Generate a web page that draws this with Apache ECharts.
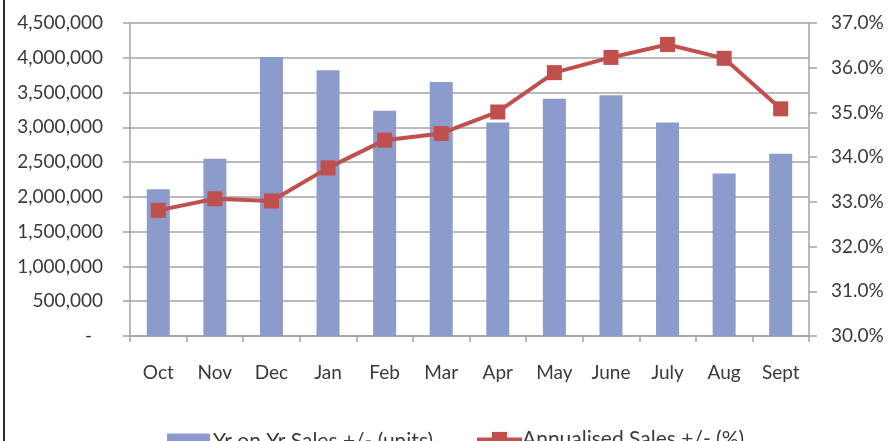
<!DOCTYPE html>
<html>
<head>
<meta charset="utf-8">
<script src="https://cdn.jsdelivr.net/npm/echarts@6/dist/echarts.min.js"></script>
<style>
html,body{margin:0;padding:0;background:#fff;}
#chart{width:890px;height:441px;}
</style>
</head>
<body>
<div id="chart"></div>
<script>
const categories = ['Oct','Nov','Dec','Jan','Feb','Mar','Apr','May','June','July','Aug','Sept'];
const salesUnits = [2110000, 2550000, 4010000, 3820000, 3240000, 3650000, 3070000, 3410000, 3460000, 3070000, 2335000, 2620000];
const annualisedPct = [32.81, 33.07, 33.02, 33.76, 34.38, 34.53, 35.01, 35.89, 36.23, 36.52, 36.21, 35.08];
const seriesNames = ['Yr on Yr Sales +/- (units)', 'Annualised Sales +/- (%)'];

const FONT = 'Lato';
const TXT = '#3a3a3a';
const GRID = '#a3a3a3';

const chart = echarts.init(document.getElementById('chart'), null, {renderer: 'canvas'});
chart.setOption({
  animation: false,
  backgroundColor: '#fff',
  textStyle: {fontFamily: FONT, color: TXT},
  graphic: [{
    type: 'rect', left: 3, top: 0,
    shape: {width: 2, height: 441},
    style: {fill: '#2b2b2b'}
  }],
  grid: {left: 130, right: 81, top: 23, bottom: 105, containLabel: false},
  legend: [{
    top: 426, left: 162,
    itemWidth: 43, itemHeight: 16, itemGap: 0,
    textStyle: {fontFamily: FONT, fontSize: 21, color: TXT, padding: [0,0,0,-2]},
    data: [{name: seriesNames[0], icon: 'rect'}]
  }, {
    top: 424, left: 470,
    itemWidth: 45, itemHeight: 19, itemGap: 0,
    lineStyle: {width: 4},
    textStyle: {fontFamily: FONT, fontSize: 21, color: TXT, padding: [0,0,0,-5]},
    data: [{name: seriesNames[1]}]
  }],
  xAxis: {
    type: 'category', data: categories, boundaryGap: true,
    axisLine: {show: true, lineStyle: {color: GRID, width: 1.5}},
    axisTick: {show: true, interval: 0, length: 6, lineStyle: {color: GRID, width: 1.5}},
    axisLabel: {interval: 0, margin: 27, fontFamily: FONT, fontSize: 19, color: TXT},
    splitLine: {show: false}
  },
  yAxis: [{
    type: 'value', min: 0, max: 4500000, interval: 500000,
    axisLine: {show: true, lineStyle: {color: GRID, width: 1.5}},
    axisTick: {show: true, length: 7, lineStyle: {color: GRID, width: 1.5}},
    axisLabel: {
      margin: 27, fontFamily: FONT, fontSize: 19, color: TXT,
      formatter: function (v) { return v === 0 ? '{d|-}' : v.toLocaleString('en-US'); },
      rich: {d: {fontFamily: FONT, fontSize: 19, color: TXT, padding: [0, 11, 0, 0]}}
    },
    splitLine: {show: true, lineStyle: {color: GRID, width: 1.5}}
  }, {
    type: 'value', min: 30, max: 37, interval: 1, position: 'right',
    axisLine: {show: true, lineStyle: {color: GRID, width: 1.5}},
    axisTick: {show: true, length: 8, lineStyle: {color: GRID, width: 1.5}},
    axisLabel: {
      margin: 22, fontFamily: FONT, fontSize: 19, color: TXT,
      formatter: function (v) { return v.toFixed(1) + '%'; }
    },
    splitLine: {show: false}
  }],
  series: [{
    name: seriesNames[0], type: 'bar', yAxisIndex: 0,
    data: salesUnits, barWidth: 23,
    itemStyle: {color: '#8b9bcc'}
  }, {
    name: seriesNames[1], type: 'line', yAxisIndex: 1,
    data: annualisedPct,
    symbol: 'rect', symbolSize: 15,
    lineStyle: {color: '#c0504d', width: 4},
    itemStyle: {color: '#c0504d'}
  }]
});
</script>
</body>
</html>
